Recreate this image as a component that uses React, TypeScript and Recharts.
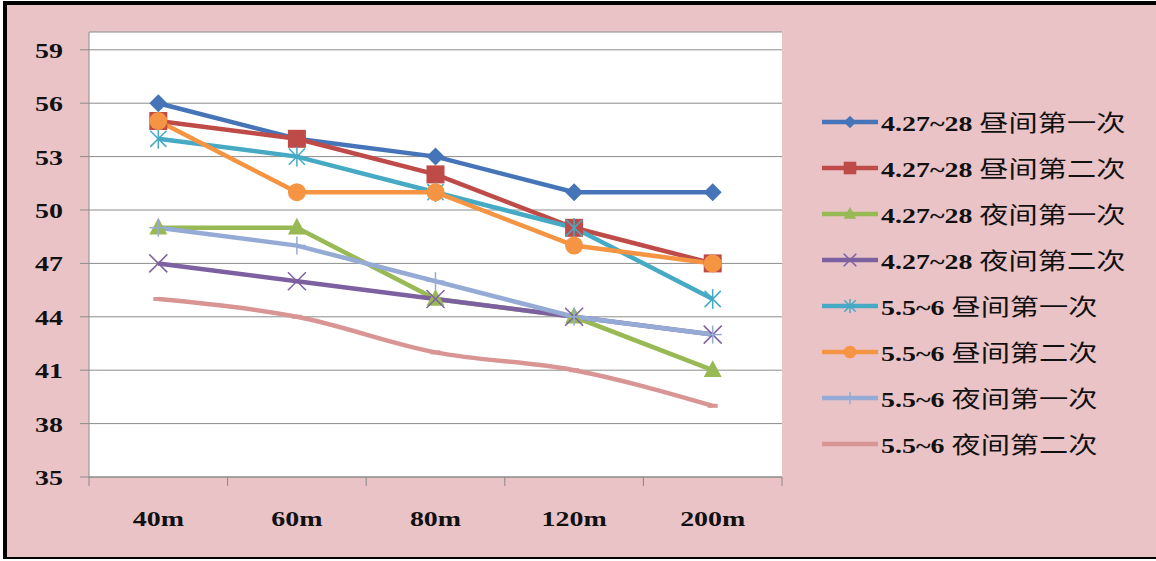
import { LineChart, Line, XAxis, YAxis, CartesianGrid } from 'recharts';

const categories = ['40m', '60m', '80m', '120m', '200m'];
const yTicks = [35, 38, 41, 44, 47, 50, 53, 56, 59];

const seriesNames = [
  '4.27~28 昼间第一次',
  '4.27~28 昼间第二次',
  '4.27~28 夜间第一次',
  '4.27~28 夜间第二次',
  '5.5~6 昼间第一次',
  '5.5~6 昼间第二次',
  '5.5~6 夜间第一次',
  '5.5~6 夜间第二次',
];

const day1A = [56, 54, 53, 51, 51];
const day2A = [55, 54, 52, 49, 47];
const night1A = [49, 49, 45, 44, 41];
const night2A = [47, 46, 45, 44, 43];
const day1B = [54, 53, 51, 49, 45];
const day2B = [55, 51, 51, 48, 47];
const night1B = [49, 48, 46, 44, 43];
const night2B = [45, 44, 42, 41, 39];

const allValues = [day1A, day2A, night1A, night2A, day1B, day2B, night1B, night2B];

const colors = ['#4674b8', '#be4b48', '#98b954', '#7d60a0', '#46aac5', '#f59443', '#95abd6', '#d89594'];
const markers = ['diamond', 'square', 'triangle', 'x', 'star', 'circle', 'plus', 'dash'];

const data = categories.map((c, i) => {
  const row: Record<string, any> = { name: c };
  allValues.forEach((vals, s) => {
    row['s' + s] = vals[i];
  });
  return row;
});

const W = 1156;
const H = 561;
const MARGIN = { top: 32, right: 374, bottom: 54, left: 0 };
const Y_AXIS_W = 89;
const PLOT_W = W - MARGIN.right - MARGIN.left - Y_AXIS_W;
const STEP = PLOT_W / categories.length;
const STRETCH = 1.27;

const serif = '"Liberation Serif", "Times New Roman", serif';

const drawMarker = (kind: string, color: string, cx: number, cy: number, k = 1, key?: any) => {
  const s = 9 * k;
  switch (kind) {
    case 'diamond':
      return <polygon key={key} points={`${cx},${cy - s} ${cx + s},${cy} ${cx},${cy + s} ${cx - s},${cy}`} fill={color} />;
    case 'square':
      return <rect key={key} x={cx - s} y={cy - s} width={2 * s} height={2 * s} fill={color} />;
    case 'triangle':
      return <polygon key={key} points={`${cx},${cy - s - 1} ${cx + s},${cy + s * 0.75} ${cx - s},${cy + s * 0.75}`} fill={color} />;
    case 'x':
      return (
        <g key={key} stroke={color} strokeWidth={1.5}>
          <line x1={cx - s} y1={cy - s} x2={cx + s} y2={cy + s} />
          <line x1={cx - s} y1={cy + s} x2={cx + s} y2={cy - s} />
        </g>
      );
    case 'star':
      return (
        <g key={key} stroke={color} strokeWidth={1.5}>
          <line x1={cx - s * 0.9} y1={cy - s * 0.9} x2={cx + s * 0.9} y2={cy + s * 0.9} />
          <line x1={cx - s * 0.9} y1={cy + s * 0.9} x2={cx + s * 0.9} y2={cy - s * 0.9} />
          <line x1={cx} y1={cy - s * 1.1} x2={cx} y2={cy + s * 1.1} />
        </g>
      );
    case 'circle':
      return <circle key={key} cx={cx} cy={cy} r={s} fill={color} />;
    case 'plus':
      return (
        <g key={key} stroke={color} strokeWidth={1.5}>
          <line x1={cx} y1={cy - s} x2={cx} y2={cy + s} />
          <line x1={cx - s} y1={cy} x2={cx + s} y2={cy} />
        </g>
      );
    case 'dash':
      return <line key={key} x1={cx - 5} y1={cy} x2={cx + 5} y2={cy} stroke={color} strokeWidth={4} />;
    default:
      return null;
  }
};

const YTick = (props: any) => {
  const { x, y, payload } = props;
  return (
    <g transform={`translate(${x},${y}) scale(${STRETCH},1)`}>
      <text x={0} y={0} dy={8} textAnchor="end" fontFamily={serif} fontWeight="bold" fontSize={22} fill="#111">
        {payload.value}
      </text>
    </g>
  );
};

const XTick = (props: any) => {
  const { x, y, payload, index } = props;
  const last = index === categories.length - 1;
  return (
    <g>
      <line x1={x - STEP / 2} y1={y} x2={x - STEP / 2} y2={y + 9} stroke="#888" />
      {last && <line x1={x + STEP / 2} y1={y} x2={x + STEP / 2} y2={y + 9} stroke="#888" />}
      <g transform={`translate(${x},${y}) scale(${STRETCH},1)`}>
        <text x={0} y={0} dy={49} textAnchor="middle" fontFamily={serif} fontWeight="bold" fontSize={22} fill="#111">
          {payload.value}
        </text>
      </g>
    </g>
  );
};

const LegendBox = () => {
  return (
    <div style={{ position: 'absolute', left: 822, top: 99 }}>
      {seriesNames.map((name, i) => {
        const parts = name.split(' ');
        return (
          <div key={name} style={{ display: 'flex', alignItems: 'center', height: 46 }}>
            <svg width={56} height={24} style={{ flex: 'none' }}>
              <line x1={0} y1={12} x2={56} y2={12} stroke={colors[i]} strokeWidth={4.5} />
              {drawMarker(markers[i], colors[i], 28, 12, 0.7)}
            </svg>
            <span
              style={{
                display: 'inline-block',
                marginLeft: 3,
                whiteSpace: 'nowrap',
                transform: `scaleX(${STRETCH})`,
                transformOrigin: 'left center',
                fontSize: 22,
                color: '#111',
                lineHeight: '24px',
              }}
            >
              <span style={{ fontFamily: serif, fontWeight: 'bold' }}>{parts[0]} </span>
              <span style={{ fontFamily: '"Noto Sans CJK SC", sans-serif', fontWeight: 400, fontSize: 23 }}>{parts[1]}</span>
            </span>
          </div>
        );
      })}
    </div>
  );
};

export default function App() {
  return (
    <div style={{ position: 'absolute', left: 0, top: 0, width: W, height: H, background: '#fff' }}>
      <div
        style={{
          position: 'absolute',
          left: 3,
          top: 1,
          width: W - 3,
          height: H - 3,
          boxSizing: 'border-box',
          borderTop: '4px solid #000',
          borderLeft: '4px solid #000',
          borderBottom: '2px solid #000',
          background: '#eac3c7',
        }}
      />
      <div style={{ position: 'absolute', left: 0, top: 0 }}>
        <LineChart width={W} height={H} data={data} margin={MARGIN}>
          <CartesianGrid vertical={false} fill="#fff" stroke="#8c8c8c" strokeWidth={1} />
          <XAxis
            dataKey="name"
            height={30}
            padding={{ left: STEP / 2, right: STEP / 2 }}
            axisLine={{ stroke: '#8c8c8c' }}
            tickLine={false}
            tickSize={0}
            tickMargin={0}
            tick={<XTick />}
            interval={0}
          />
          <YAxis
            width={Y_AXIS_W}
            domain={[35, 60]}
            ticks={yTicks}
            allowDataOverflow
            axisLine={{ stroke: '#8c8c8c' }}
            tickLine={{ stroke: '#8c8c8c' }}
            tickSize={9}
            tickMargin={17}
            tick={<YTick />}
            interval={0}
          />
          {seriesNames.map((name, s) => (
            <Line
              key={name}
              name={name}
              dataKey={'s' + s}
              type={s === 7 ? 'monotone' : 'linear'}
              stroke={colors[s]}
              strokeWidth={4.5}
              isAnimationActive={false}
              activeDot={false}
              dot={(p: any) => drawMarker(markers[s], colors[s], p.cx, p.cy, 1, `${s}-${p.index}`)}
            />
          ))}
        </LineChart>
      </div>
      <LegendBox />
    </div>
  );
}
